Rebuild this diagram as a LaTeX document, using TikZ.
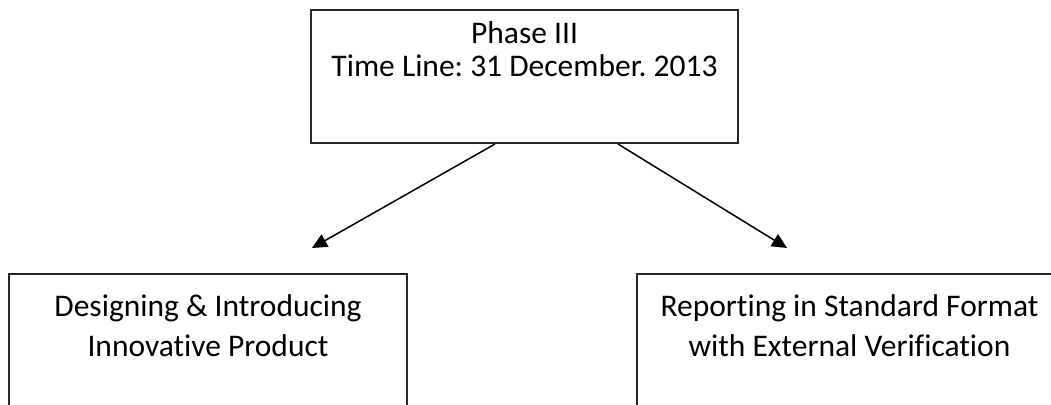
\documentclass[tikz,border=0pt]{standalone}
\usepackage{fontspec}
\setmainfont{Carlito}[Ligatures={NoCommon,NoRequired,NoContextual}]
\usetikzlibrary{positioning,arrows.meta}

\begin{document}
\frenchspacing
\begin{tikzpicture}[x=0.4pt, y=-0.4pt, font=\fontsize{12.6}{13.2}\selectfont,
		phasebox/.style={draw=black!85, line width=0.8pt, minimum width=#1, minimum height=53.2pt, inner sep=0pt},
		phasetext/.style={align=center, inner sep=0pt},
		phasearrow/.style={-{Triangle[length=6pt, width=5.6pt]}, line width=0.6pt}]
				\useasboundingbox (0,0) rectangle (1051,405);
				\clip (0,0) rectangle (1051,405);
				\node[phasebox=170.8pt] (phase)at(524.5, 76.5) {};
				\node[phasebox=159.2pt] (design)at(208, 340.5) {};
				\node[phasebox=170pt] (report)at(849.5, 340.5) {};
				\node[phasetext, below=5pt of phase.north] (phasetxt) {Phase III\\Time Line: 31 December. 2013};
				\node[phasetext, below=8.4pt of design.north, font=\fontsize{12.6}{16}\selectfont] (designtxt) {Designing \& Introducing\\Innovative Product};
				\node[phasetext, below=8.4pt of report.north, font=\fontsize{12.6}{16}\selectfont] (reporttxt) {Reporting in Standard Format\\with External Verification};
				\coordinate (endA) at (312, 248);
				\coordinate (endB) at (787, 248);
				\draw[phasearrow] ([xshift=74pt]phase.south west) -- (endA);
				\draw[phasearrow] ([xshift=123.2pt]phase.south west) -- (endB);
			\end{tikzpicture}
\end{document}
